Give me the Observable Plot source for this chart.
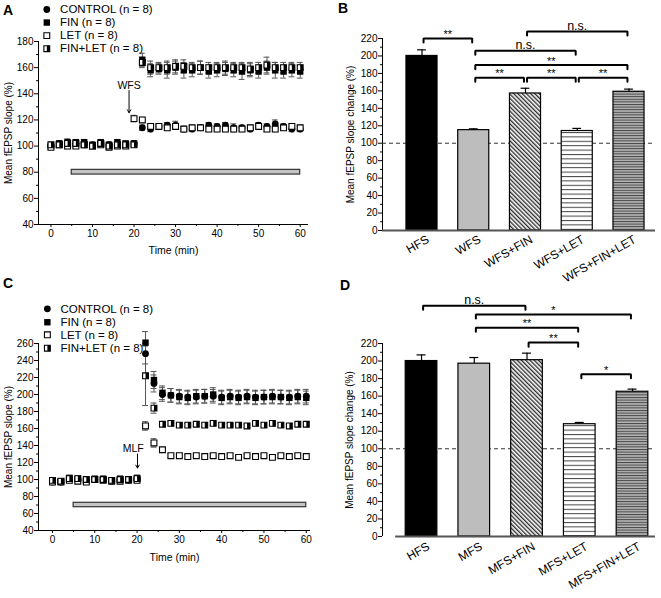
<!DOCTYPE html>
<html><head><meta charset="utf-8">
<script src="https://cdn.jsdelivr.net/npm/d3@7"></script>
<script src="https://cdn.jsdelivr.net/npm/@observablehq/plot@0.6"></script>
<style>
body{margin:0;background:#fff;}
#fig{position:relative;width:661px;height:598px;background:#fff;font-family:"Liberation Sans",Arial,sans-serif;overflow:hidden;}
.letter{position:absolute;font-weight:bold;font-size:14px;line-height:14px;color:#000;}
</style></head>
<body><div id="fig"></div>
<script>
// ---------------- DATA ----------------
const seriesNames = ["CONTROL", "FIN", "LET", "FIN+LET"];
const legendLabels = ["CONTROL (n = 8)", "FIN (n = 8)", "LET (n = 8)", "FIN+LET (n = 8)"];
const timePoints = [0,2,4,6,8,10,12,14,16,18,20,22,24,26,28,30,32,34,36,38,40,42,44,46,48,50,52,54,56,58,60];

// Panel A (WFS)
const ctlA    = [100,102,102,102,102,101,102,101,102,101,102, 114,113,115,116,116,113,113,114,116,115,116,114,114,113,116,115,117,115,113,113];
const finA    = [100,102,103,103,103,101,103,101,103,102,102, 166,158,159,158,160,158,158,160,157,158,159,158,157,158,157,160,158,157,158,157];
const letA    = [99,101,100,100,101,100,101,99,100,100,121, 120,115,115,114,115,113,114,114,113,113,113,113,113,114,115,113,113,114,115,114];
const finletA = [101,101,102,102,101,100,102,100,101,101,101, 164,160,160,160,161,161,160,160,160,160,160,160,160,159,160,162,160,160,160,160];
const ctlAerr    = [1.5,1.5,2,1.5,1.5,1.5,1.5,1.5,1.5,1.5,1.5, 2,2,2,2,3,2,2,2,2,2,2,3,2,2,2,2,3,2,2,2];
const finAerr    = [1.5,2,2.5,2,2,1.5,2,2,2,2,2, 5,5,4,6,5,6,5,5,5,5,5,5,6,5,5,5,6,5,5,5];
const letAerr    = [1.5,1.5,2,1.5,1.5,1.5,1.5,1.5,1.5,1.5,2.5, 2,2,2,2,2,2,2,2,2,2,2,2,2,2,2,2,2,2,2,2];
const finletAerr = [1.5,1.5,2,1.5,1.5,1.5,1.5,1.5,1.5,1.5,1.5, 4,5,4,5,5,5,4,5,4,4,5,4,4,5,4,6,4,4,4,4];

// Panel C (MLF)
const ctlC    = [97,97,100,100,99,100,100,98,99,99,101, 248,213,200,199,198,197,197,198,198,197,198,197,198,197,197,198,197,197,198,198];
const finC    = [99,98,102,101,98,101,101,99,101,100,102, 261,217,202,199,197,196,198,198,200,196,197,196,197,196,197,197,197,196,197,196];
const letC    = [97,97,99,98,97,100,99,98,98,99,99, 163,143,135,128,128,127,128,127,128,127,128,126,128,127,128,126,128,127,128,127];
const finletC = [99,98,101,101,100,100,100,99,100,100,101, 222,184,165,166,164,164,165,164,166,164,164,164,163,166,164,166,164,163,165,165];
const ctlCerr    = [2,2,2,2,2,2,2,2,2,2,2, 12,10,8,8,8,8,8,8,8,8,8,8,8,8,8,8,8,8,8,8];
const finCerr    = [2,2,2,2,2,2,2,2,2,2,2, 13,10,8,8,8,8,8,8,8,8,8,8,8,8,8,8,8,8,8,8];
const letCerr    = [2,2,2,2,2,2,2,2,2,2,2, 5,5,2,2,2,2,2,2,2,2,2,2,2,2,2,2,2,2,2,2];
const finletCerr = [2,2,2,2,2,2,2,2,2,2,2, 35,6,2,2,2,2,2,2,2,2,2,2,2,2,2,2,2,2,2,2];

// Panel B
const catsB  = ["HFS", "WFS", "WFS+FIN", "WFS+LET", "WFS+FIN+LET"];
const meansB = [200, 115, 157, 114, 159];
const semsB  = [7, 1.5, 6, 3, 3];
const sigB = [
  {from: 0, to: 1, label: "**", level: 220},
  {from: 2, to: 4, label: "n.s.", level: 228},
  {from: 1, to: 3, label: "n.s.", level: 206},
  {from: 1, to: 4, label: "**", level: 189.5},
  {from: 1, to: 2, label: "**", level: 175},
  {from: 2, to: 3, label: "**", level: 175},
  {from: 3, to: 4, label: "**", level: 175}
];

// Panel D
const catsD  = ["HFS", "MFS", "MFS+FIN", "MFS+LET", "MFS+FIN+LET"];
const meansD = [200, 197, 201, 128, 165];
const semsD  = [7, 7, 8, 2, 3];
const sigD = [
  {from: 0, to: 2, label: "n.s.", level: 263},
  {from: 1, to: 4, label: "*", level: 253},
  {from: 1, to: 3, label: "**", level: 238},
  {from: 2, to: 3, label: "**", level: 221},
  {from: 3, to: 4, label: "*", level: 185}
];

// ticks
const timeTicks = [0, 10, 20, 30, 40, 50, 60];
const timeMinor = [5, 15, 25, 35, 45, 55];
const yTicksA = [40, 60, 80, 100, 120, 140, 160, 180];
const yMinorA = [50, 70, 90, 110, 130, 150, 170];
const yTicksC = [40, 60, 80, 100, 120, 140, 160, 180, 200, 220, 240, 260];
const yMinorC = [50, 70, 90, 110, 130, 150, 170, 190, 210, 230, 250];
const yTicksBar = [0, 20, 40, 60, 80, 100, 120, 140, 160, 180, 200, 220];
const yMinorBar = [10, 30, 50, 70, 90, 110, 130, 150, 170, 190, 210];

// annotations
const stimA = {label: "WFS", t: 18.8};
const stimC = {label: "MLF", t: 20.1};
const drugA = {start: 5, end: 60, level: 80};
const drugC = {start: 5, end: 60, level: 70};

// ---------------- HELPERS ----------------
const fig = document.getElementById("fig");
const FONT = "'Liberation Sans', Arial, sans-serif";
const baseStyle = {fontFamily: FONT, fontSize: "10px", background: "none", overflow: "visible"};

function place(svg, left, top) {
  svg.style.position = "absolute";
  svg.style.left = left + "px";
  svg.style.top = top + "px";
  svg.style.maxWidth = "none";
  fig.appendChild(svg);
}
function letter(ch, left, top) {
  const d = document.createElement("div");
  d.className = "letter"; d.textContent = ch;
  d.style.left = left + "px"; d.style.top = top + "px";
  fig.appendChild(d);
}

const halfRight = {
  draw(context, size) {
    const w = Math.sqrt(size);
    context.rect(0, -w / 2, w / 2, w);
  }
};

function tidy(vals, errs) {
  const rows = [];
  seriesNames.forEach((s, k) => timePoints.forEach((t, i) => rows.push({series: s, t, v: vals[k][i], e: errs[k][i]})));
  return rows;
}

function markers(data, x, y) {
  const f = s => data.filter(d => d.series === s);
  return [
    Plot.dot(f("FIN"), {x, y, symbol: "square", r: 3.6, fill: "#000"}),
    Plot.dot(f("CONTROL"), {x, y, symbol: "circle", r: 3.4, fill: "#000"}),
    Plot.dot(f("LET"), {x, y, symbol: "square", r: 3.3, fill: "#fff", stroke: "#000", strokeWidth: 1.1}),
    Plot.dot(f("FIN+LET"), {x, y, symbol: "square", r: 3.3, fill: "#fff", stroke: "#000", strokeWidth: 1.1}),
    Plot.dot(f("FIN+LET"), {x, y, symbol: halfRight, r: 3.3, fill: "#000"})
  ];
}

function errorBars(rows, cap) {
  return [
    Plot.ruleX(rows, {x: "t", y1: d => d.v - d.e, y2: d => d.v + d.e, stroke: "#555", strokeWidth: 1}),
    Plot.ruleY(rows, {y: d => d.v + d.e, x1: d => d.t - cap, x2: d => d.t + cap, stroke: "#555", strokeWidth: 1}),
    Plot.ruleY(rows, {y: d => d.v - d.e, x1: d => d.t - cap, x2: d => d.t + cap, stroke: "#555", strokeWidth: 1})
  ];
}

function timePanel(o) {
  const legend = seriesNames.map((s, k) => ({series: s, label: legendLabels[k], y: o.legRows[k]}));
  return Plot.plot({
    width: o.width, height: o.height,
    marginLeft: o.ml, marginRight: o.mr, marginTop: o.mt, marginBottom: o.mb,
    x: {domain: o.xDomain, axis: null},
    y: {domain: o.yDomain, axis: null},
    style: baseStyle,
    marks: [
      Plot.axisY({ticks: o.yTicks, tickSize: 4, tickPadding: 1, label: null, fontSize: 10}),
      Plot.axisY({ticks: o.yMinor, tickSize: 2, tickFormat: () => "", label: null}),
      Plot.axisX({ticks: timeTicks, tickSize: 3, tickPadding: 2, label: null, fontSize: 10}),
      Plot.axisX({ticks: timeMinor, tickSize: 2, tickFormat: () => "", label: null}),
      Plot.ruleX([o.xDomain[0]], {y1: o.yDomain[0], y2: o.yDomain[1], stroke: "#000", strokeWidth: 1}),
      Plot.ruleY([o.yDomain[0]], {x1: o.xDomain[0], x2: o.xDomain[1], stroke: "#000", strokeWidth: 1}),
      Plot.rect([o.drug], {x1: "start", x2: "end", y1: d => d.level - o.drugHalf, y2: d => d.level + o.drugHalf, fill: "#c4c4c4", stroke: "#333", strokeWidth: 1.2}),
      Plot.arrow([o.stim], {x1: "t", x2: "t", y1: () => o.arrowFrom, y2: () => o.arrowTo, headLength: 5, stroke: "#000", strokeWidth: 1}),
      Plot.text([o.stim], {x: d => d.t + o.stimDx, y: () => o.stimLabelY, text: "label", fontSize: 10.5}),
      ...errorBars(o.rows, 0.7),
      ...markers(o.rows, "t", "v"),
      ...markers(legend, () => o.legMarkX, "y"),
      Plot.text(legend, {x: () => o.legTextX, y: "y", text: "label", textAnchor: "start", fontSize: 11.5}),
      Plot.text(["Mean fEPSP slope (%)"], {text: d => d, frameAnchor: "left", textAnchor: "middle", lineAnchor: "middle", rotate: -90, dx: -30, fontSize: 10}),
      Plot.text(["Time (min)"], {text: d => d, frameAnchor: "bottom", textAnchor: "middle", lineAnchor: "middle", dy: o.xLabelDy, fontSize: 10.5})
    ]
  });
}

function addPatterns(svg, pre) {
  const defs = d3.select(svg).insert("defs", ":first-child");
  const p1 = defs.append("pattern").attr("id", pre + "diag").attr("patternUnits", "userSpaceOnUse")
    .attr("width", 3).attr("height", 3).attr("patternTransform", "rotate(-45)");
  p1.append("rect").attr("width", 3).attr("height", 3).attr("fill", "#fff");
  p1.append("line").attr("x1", 0.7).attr("y1", -1).attr("x2", 0.7).attr("y2", 4).attr("stroke", "#222").attr("stroke-width", 1.3);
  const p2 = defs.append("pattern").attr("id", pre + "hl").attr("patternUnits", "userSpaceOnUse")
    .attr("width", 10).attr("height", 4.4);
  p2.append("rect").attr("width", 10).attr("height", 4.4).attr("fill", "#fff");
  p2.append("line").attr("x1", 0).attr("y1", 0.5).attr("x2", 10).attr("y2", 0.5).attr("stroke", "#444").attr("stroke-width", 1);
  const p3 = defs.append("pattern").attr("id", pre + "hd").attr("patternUnits", "userSpaceOnUse")
    .attr("width", 10).attr("height", 2.6);
  p3.append("rect").attr("width", 10).attr("height", 2.6).attr("fill", "#b4b4b4");
  p3.append("line").attr("x1", 0).attr("y1", 0.5).attr("x2", 10).attr("y2", 0.5).attr("stroke", "#444").attr("stroke-width", 1);
}

function barPanel(o) {
  const fills = ["#000", "#bdbdbd", `url(#${o.pre}diag)`, `url(#${o.pre}hl)`, `url(#${o.pre}hd)`];
  const bars = o.cats.map((c, i) => ({i, c, m: o.means[i], s: o.sems[i]}));
  const hw = 0.3, leg = 4.6, inset = 0.03;
  const bpts = o.sig.flatMap((b, k) => {
    const a = b.from + inset, c = b.to - inset;
    return [{k, x: a, y: b.level - leg}, {k, x: a, y: b.level}, {k, x: c, y: b.level}, {k, x: c, y: b.level - leg}];
  });
  const svg = Plot.plot({
    width: o.width, height: o.height,
    marginLeft: o.ml, marginRight: o.mr, marginTop: o.mt, marginBottom: o.mb,
    x: {domain: o.xDomain, axis: null},
    y: {domain: [0, 220], axis: null},
    style: baseStyle,
    marks: [
      Plot.axisY({ticks: yTicksBar, tickSize: 4, tickPadding: 1, label: null, fontSize: 10}),
      Plot.axisY({ticks: yMinorBar, tickSize: 2, tickFormat: () => "", label: null}),
      Plot.ruleX([o.xDomain[0]], {y1: 0, y2: 220, stroke: "#000", strokeWidth: 1}),
      Plot.ruleY([100], {stroke: "#333", strokeDasharray: "4,3", strokeWidth: 1}),
      ...bars.map(b => Plot.rect([b], {x1: d => d.i - hw, x2: d => d.i + hw, y1: 0, y2: "m", fill: fills[b.i], stroke: "#000", strokeWidth: 1.2})),
      Plot.ruleY([0], {x1: o.xDomain[0] + o.axisStart, x2: o.xDomain[1], stroke: "#555", strokeWidth: 2}),
      Plot.ruleX(bars, {x: "i", y1: "m", y2: d => d.m + d.s, stroke: "#000", strokeWidth: 1.2}),
      Plot.ruleY(bars, {y: d => d.m + d.s, x1: d => d.i - 0.085, x2: d => d.i + 0.085, stroke: "#000", strokeWidth: 1.2}),
      Plot.line(bpts, {x: "x", y: "y", z: "k", stroke: "#000", strokeWidth: 2, strokeLinejoin: "miter", curve: "linear"}),
      Plot.text(o.sig.filter(d => d.label !== "n.s."), {x: d => (d.from + d.to) / 2, y: "level", text: "label", lineAnchor: "middle", dy: -4, fontSize: 11}),
      Plot.text(o.sig.filter(d => d.label === "n.s."), {x: d => (d.from + d.to) / 2, y: "level", text: "label", lineAnchor: "bottom", dy: -2, fontSize: 12.5}),
      Plot.text(bars, {x: "i", y: 0, text: "c", rotate: -30, textAnchor: "end", lineAnchor: "middle", dx: o.labDx, dy: o.labDy, fontSize: 12}),
      Plot.text(["Mean fEPSP slope change (%)"], {text: d => d, frameAnchor: "left", textAnchor: "middle", lineAnchor: "middle", rotate: -90, dx: o.yLabDx, fontSize: 10})
    ]
  });
  addPatterns(svg, o.pre);
  return svg;
}

// ---------------- BUILD ----------------
const rowsA = tidy([ctlA, finA, letA, finletA], [ctlAerr, finAerr, letAerr, finletAerr]);
const rowsC = tidy([ctlC, finC, letC, finletC], [ctlCerr, finCerr, letCerr, finletCerr]);

place(timePanel({
  rows: rowsA, width: 330, height: 270, ml: 38, mr: 22, mt: 41, mb: 46,
  xDomain: [-3, 62], yDomain: [40, 180], yTicks: yTicksA, yMinor: yMinorA,
  drug: drugA, drugHalf: 1.8, stim: stimA, arrowFrom: 142.5, arrowTo: 125.5, stimLabelY: 146.5, stimDx: 0,
  legRows: [204.5, 194.5, 184.5, 174.5], legMarkX: -1, legTextX: 2.2, xLabelDy: 26
}), 0, 0);

place(timePanel({
  rows: rowsC, width: 330, height: 298, ml: 38, mr: 20, mt: 43, mb: 68,
  xDomain: [-3.3, 61], yDomain: [40, 260], yTicks: yTicksC, yMinor: yMinorC,
  drug: drugC, drugHalf: 2.6, stim: stimC, arrowFrom: 130, arrowTo: 113.5, stimLabelY: 136, stimDx: -1,
  legRows: [300.8, 285, 270.2, 254.5], legMarkX: -1.2, legTextX: 1.9, xLabelDy: 27
}), 0, 300);

place(barPanel({
  pre: "B", cats: catsB, means: meansB, sems: semsB, sig: sigB,
  width: 331, height: 300, ml: 52, mr: 6, mt: 38, mb: 70,
  xDomain: [-0.763, 4.512], axisStart: 0, labDx: 6, labDy: 8, yLabDx: -32
}), 330, 0);

place(barPanel({
  pre: "D", cats: catsD, means: meansD, sems: semsD, sig: sigD,
  width: 331, height: 318, ml: 52, mr: 6, mt: 63, mb: 62,
  xDomain: [-0.74, 4.436], axisStart: 0.25, labDx: 7, labDy: 9, yLabDx: -33
}), 330, 280);

letter("A", 3, 3);
letter("B", 338, 1);
letter("C", 3, 276);
letter("D", 340, 278);
</script>
</body></html>
